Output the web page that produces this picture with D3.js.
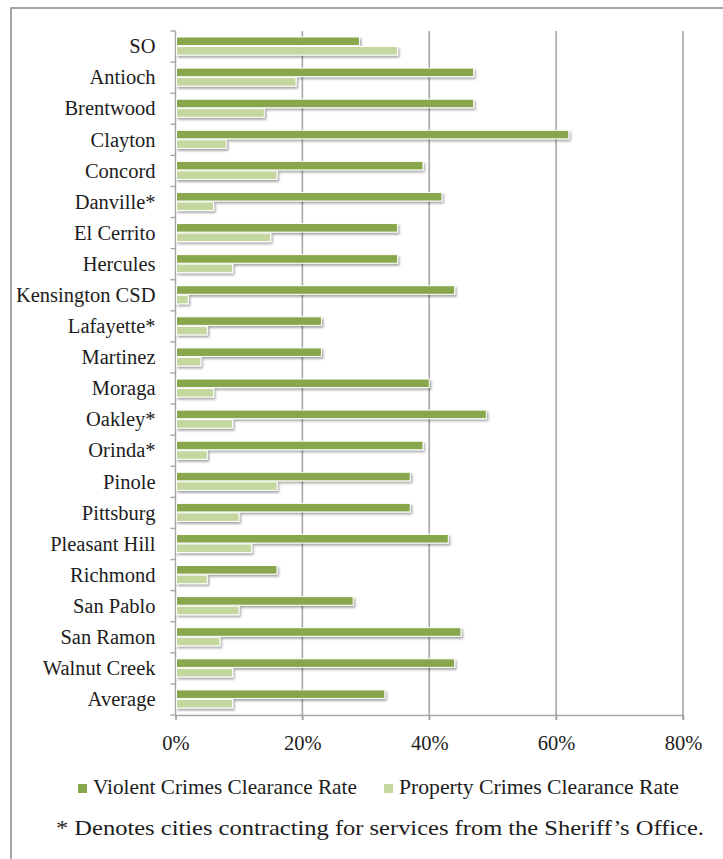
<!DOCTYPE html>
<html>
<head>
<meta charset="utf-8">
<script src="https://cdn.jsdelivr.net/npm/d3@7"></script>
<style>
  html, body { margin: 0; padding: 0; background: #fff; }
  svg { display: block; }
  text { font-family: "Liberation Serif", "DejaVu Serif", serif; fill: #1c1c1c; }
</style>
</head>
<body>
<script>
const categories = ["SO","Antioch","Brentwood","Clayton","Concord","Danville*","El Cerrito","Hercules","Kensington CSD","Lafayette*","Martinez","Moraga","Oakley*","Orinda*","Pinole","Pittsburg","Pleasant Hill","Richmond","San Pablo","San Ramon","Walnut Creek","Average"];
const violentRate  = [29,47,47,62,39,42,35,35,44,23,23,40,49,39,37,37,43,16,28,45,44,33];
const propertyRate = [35,19,14,8,16,6,15,9,2,5,4,6,9,5,16,10,12,5,10,7,9,9];
const seriesNames = ["Violent Crimes Clearance Rate","Property Crimes Clearance Rate"];
const xTicks = [0,20,40,60,80];
const footnote = "* Denotes cities contracting for services from the Sheriff\u2019s Office.";

(function(){
const W = 723, H = 859;
const colors = ["#88a64c", "#c4d79e"];

const svg = d3.select("body").append("svg").attr("width", W).attr("height", H);

const defs = svg.append("defs");
const f = defs.append("filter").attr("id","sh").attr("x","-5%").attr("y","-50%").attr("width","110%").attr("height","250%");
f.append("feDropShadow").attr("dx",1.5).attr("dy",2).attr("stdDeviation",1.2).attr("flood-color","#000").attr("flood-opacity",0.35);

// outer frame
svg.append("rect").attr("x",11).attr("y",8).attr("width",W+20).attr("height",H+20)
  .attr("fill","none").attr("stroke","#8f8f8f").attr("stroke-width",1.6);

const pL = 175.5, pR = 683, pT = 31, pB = 715;
const x = d3.scaleLinear().domain([0,80]).range([pL,pR]);
const y = d3.scaleBand().domain(categories).range([pT,pB]).paddingInner(0).paddingOuter(0);
const ySub = d3.scaleBand().domain([0,1]).range([6, y.bandwidth()-7]).paddingInner(0.1);

// gridlines
svg.append("g").selectAll("line").data(xTicks.filter(d => d > 0)).join("line")
  .attr("x1", d => x(d)).attr("x2", d => x(d)).attr("y1", pT).attr("y2", pB + 5)
  .attr("stroke","#a6a6a6").attr("stroke-width",1.6);

// x axis
const xAxis = svg.append("g").attr("transform",`translate(0,${pB})`)
  .call(d3.axisBottom(x).tickValues(xTicks).tickFormat(d => d + "%").tickSize(5).tickPadding(15));
xAxis.select(".domain").attr("stroke","#a6a6a6").attr("stroke-width",1.4);
xAxis.selectAll(".tick line").attr("stroke","#a6a6a6").attr("stroke-width",1.4);
xAxis.selectAll(".tick text").attr("font-size",20.5).attr("font-family","Liberation Serif").attr("fill","#1c1c1c");

// y axis line and boundary ticks
const ya = svg.append("g");
ya.append("line").attr("x1",pL).attr("x2",pL).attr("y1",pT).attr("y2",pB)
  .attr("stroke","#a6a6a6").attr("stroke-width",1.4);
const boundaries = categories.map(c => y(c)).concat([pB]);
ya.selectAll("line.tk").data(boundaries).join("line").attr("class","tk")
  .attr("x1",pL-5).attr("x2",pL).attr("y1",d=>d).attr("y2",d=>d)
  .attr("stroke","#a6a6a6").attr("stroke-width",1.4);
ya.selectAll("text").data(categories).join("text")
  .attr("x", pL - 20).attr("y", c => y(c) + y.bandwidth()/2 + 2)
  .attr("text-anchor","end").attr("dominant-baseline","middle")
  .attr("font-size",20.5).text(c => c);

// bars
const data = categories.map((c,i) => ({c, vals:[violentRate[i], propertyRate[i]]}));
const g = svg.append("g").attr("filter","url(#sh)");
data.forEach(d => {
  d.vals.forEach((v,s) => {
    g.append("rect")
      .attr("x", x(0)+1).attr("y", y(d.c) + ySub(s))
      .attr("width", x(v) - x(0) - 1).attr("height", ySub.bandwidth())
      .attr("fill", colors[s]).attr("stroke","#fff").attr("stroke-width",1);
  });
});

// legend
const legend = svg.append("g");
const legendItems = [{x:78, w:264, name:seriesNames[0], c:colors[0]},{x:384, w:280, name:seriesNames[1], c:colors[1]}];
legendItems.forEach(it => {
  legend.append("rect").attr("x",it.x).attr("y",784).attr("width",9).attr("height",9).attr("fill",it.c);
  const t = legend.append("text").attr("x",it.x+15).attr("y",789).attr("dominant-baseline","middle")
    .attr("font-size",20).text(it.name);
  const len = t.node().getComputedTextLength();
  t.attr("font-size", 20 * it.w / len);
});

// footnote
svg.append("text").attr("x",56).attr("y",830).attr("dominant-baseline","middle")
  .attr("font-size",22).attr("textLength",648).attr("lengthAdjust","spacingAndGlyphs").text(footnote);
})();
</script>
</body>
</html>
